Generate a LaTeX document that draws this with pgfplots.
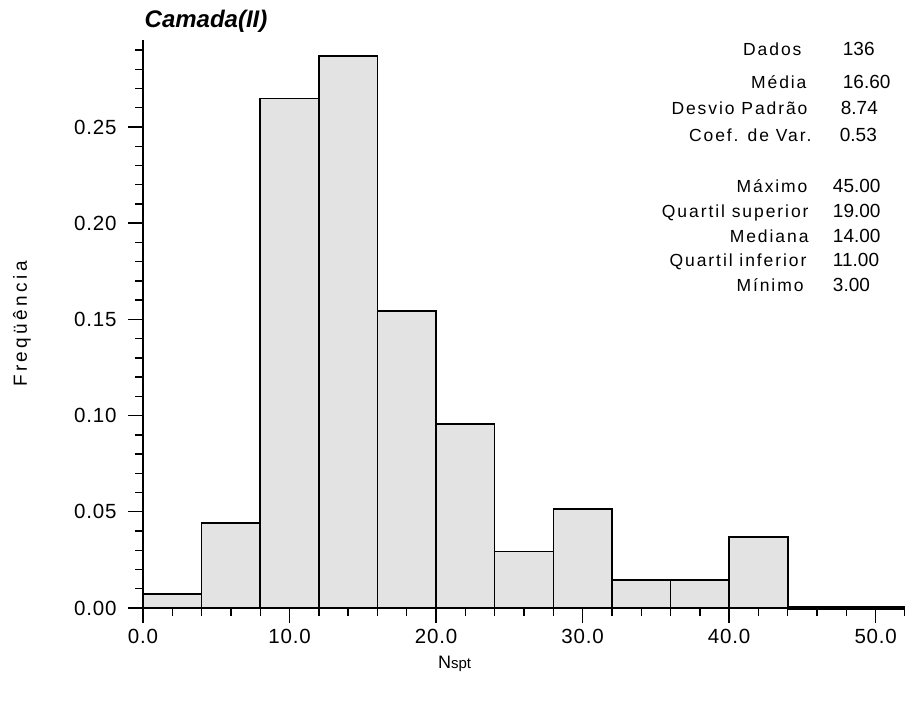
\documentclass[border=0pt]{standalone}
\usepackage{fontspec}
\setmainfont{Liberation Sans}
\usepackage{pgfplots}
\pgfplotsset{compat=1.18}
\definecolor{barfill}{HTML}{E3E3E3}
\begin{document}
\begin{tikzpicture}
\useasboundingbox (-143pt,-96pt) rectangle (762pt,608pt);
\begin{axis}[
  scale only axis,
  width=762pt, height=568pt,
  xmin=0, xmax=52, ymin=0, ymax=0.2952,
  axis lines=left,
  axis line style={-, line width=2.4pt},
  clip=false,
  tick align=outside,
  xtick={0,10,20,30,40,50},
  minor xtick={2,4,6,8,12,14,16,18,22,24,26,28,32,34,36,38,42,44,46,48,52},
  ytick={0,0.05,0.10,0.15,0.20,0.25},
  minor ytick={0.01,0.02,0.03,0.04,0.06,0.07,0.08,0.09,0.11,0.12,0.13,0.14,0.16,0.17,0.18,0.19,0.21,0.22,0.23,0.24,0.26,0.27,0.28,0.29},
  major tick length=15pt, minor tick length=8pt,
  every tick/.style={black, line width=1.4pt},
  x tick label style={/pgf/number format/fixed, /pgf/number format/fixed zerofill, /pgf/number format/precision=1, /pgf/number format/assume math mode=true, yshift=-3pt},
  y tick label style={/pgf/number format/fixed, /pgf/number format/fixed zerofill, /pgf/number format/precision=2, /pgf/number format/assume math mode=true, xshift=-8pt},
  ticklabel style={font=\fontsize{20.5}{24}\selectfont\addfontfeatures{LetterSpace=4}},
  xlabel={N{\fontsize{15}{16}\selectfont spt}},
  xlabel style={at={(axis description cs:0.409,-0.0986)}, anchor=center, font=\fontsize{18}{20}\selectfont},
  ylabel={Freqüência},
  ylabel style={at={(axis description cs:-0.159,0.5)}, anchor=center, rotate=0, font=\fontsize{19}{20}\selectfont\addfontfeatures{LetterSpace=18}},
  title={\textbf{\textit{Camada(II)}}},
  title style={at={(axis description cs:0.002,1)}, anchor=base west, yshift=6pt, font=\fontsize{24}{26}\selectfont, inner sep=0pt},
]
\addplot[ybar interval, fill=barfill, draw=black, line width=1.6pt] coordinates {
  (0,0.00735) (4,0.0441) (8,0.2647) (12,0.2868) (16,0.1544) (20,0.0956)
  (24,0.0294) (28,0.0515) (32,0.0147) (36,0.0147) (40,0.0368) (44,0.0368)
};
\addplot[black, line width=3.5pt] coordinates {(44,0) (52,0)};
\begin{scope}[every node/.style={font=\fontsize{17.5}{19}\selectfont\addfontfeatures{LetterSpace=11}, inner sep=0pt}]
\node[anchor=base east] at (axis cs:44.95,0.2874) {Dados};
\node[anchor=base east] at (axis cs:45.29,0.2698) {Média};
\node[anchor=base east] at (axis cs:45.36,0.2563) {Desvio Padrão};
\node[anchor=base east] at (axis cs:45.63,0.2427) {Coef. de Var.};
\node[anchor=base east] at (axis cs:45.36,0.2157) {Máximo};
\node[anchor=base east] at (axis cs:45.43,0.2027) {Quartil superior};
\node[anchor=base east] at (axis cs:45.43,0.1897) {Mediana};
\node[anchor=base east] at (axis cs:45.29,0.1773) {Quartil inferior};
\node[anchor=base east] at (axis cs:45.09,0.1643) {Mínimo};
\end{scope}
\begin{scope}[every node/.style={font=\fontsize{19}{21}\selectfont, inner sep=0pt}]
\node[anchor=base west] at (axis cs:47.75,0.2874) {136};
\node[anchor=base west] at (axis cs:47.75,0.2698) {16.60};
\node[anchor=base west] at (axis cs:47.61,0.2563) {8.74};
\node[anchor=base west] at (axis cs:47.54,0.2427) {0.53};
\node[anchor=base west] at (axis cs:47.07,0.2157) {45.00};
\node[anchor=base west] at (axis cs:47.07,0.2027) {19.00};
\node[anchor=base west] at (axis cs:47.07,0.1897) {14.00};
\node[anchor=base west] at (axis cs:47.07,0.1773) {11.00};
\node[anchor=base west] at (axis cs:47.07,0.1643) {3.00};
\end{scope}
\end{axis}
\end{tikzpicture}
\end{document}
